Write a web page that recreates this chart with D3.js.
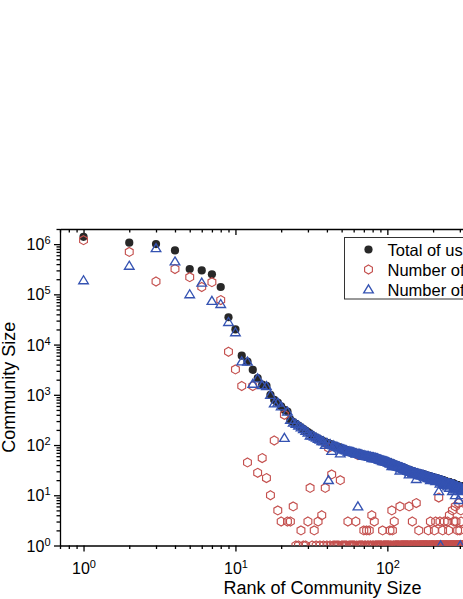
<!DOCTYPE html>
<html>
<head>
<meta charset="utf-8">
<script src="https://cdn.jsdelivr.net/npm/d3@7"></script>
<style>
	body { margin: 0; background: #fff; overflow: hidden; }
	svg { display: block; font-family: Arial, 'Liberation Sans', sans-serif; }
	.axis path, .axis line { stroke: #000; stroke-width: 1.3; fill: none; }
	.tick-label { font-size: 16px; fill: #000; }
	.title { font-size: 18px; fill: #000; }
	.legend-box { fill: #fff; stroke: #333; stroke-width: 1; }
	.legend-text { font-size: 16.5px; fill: #000; }
	.total { fill: #282828; }
	.red { fill: none; stroke: #c4504e; stroke-width: 1.15; }
	.blue { fill: none; stroke: #3553b2; stroke-width: 1.35; }
</style>
</head>
<body>
<svg width="463" height="599"></svg>
<script>
// community sizes, one value per rank (rank = index + 1)
const totalUsers = [
	1400000, 1070000, 1000000, 750000, 320000, 300000, 250000, 140000, 35000, 20000,
	6000, 4600, 3150, 2150, 1600, 1500, 1000, 790, 700, 590,
	500, 465, 320, 286, 265, 245, 225, 208, 193, 180,
	168, 156, 148, 141, 135, 129, 124, 119, 115, 111,
	108, 105, 102, 99, 96, 94, 92, 90, 88, 86,
	84, 82, 80, 79, 77, 76, 75, 74, 73, 72,
	71, 70, 69, 69, 68, 67, 66, 65, 64, 63,
	63, 62, 62, 61, 61, 60, 60, 59, 59, 58,
	58, 57, 57, 56, 55, 55, 54, 53, 52, 52,
	51, 51, 50, 50, 49, 49, 48, 48, 47, 47,
	46, 46, 45, 45, 44, 44, 43, 43, 42, 42,
	41, 41, 40, 40, 39, 39, 39, 38, 38, 38,
	37, 37, 37, 36, 36, 36, 35, 35, 35, 34,
	34, 34, 33, 33, 33, 32, 32, 32, 32, 31,
	31, 31, 31, 30, 30, 30, 30, 29, 29, 29,
	29, 29, 29, 28, 28, 28, 28, 28, 28, 27,
	27, 27, 27, 27, 27, 26, 26, 26, 26, 26,
	26, 26, 26, 25, 25, 25, 25, 25, 25, 25,
	25, 24, 24, 24, 24, 24, 24, 24, 24, 23,
	23, 23, 23, 23, 23, 23, 23, 23, 23, 22,
	22, 22, 22, 22, 22, 22, 22, 22, 22, 22,
	21, 21, 21, 21, 21, 21, 21, 21, 21, 21,
	21, 20, 20, 20, 20, 20, 20, 20, 20, 20,
	20, 20, 19, 19, 19, 19, 19, 19, 19, 19,
	19, 19, 19, 18, 18, 18, 18, 18, 18, 18,
	18, 18, 18, 18, 18, 18, 18, 18, 17, 17,
	17, 17, 17, 17, 17, 17, 17, 17, 17, 17,
	17, 17, 17, 17, 16, 16, 16, 16, 16, 16,
	16, 16, 16, 16, 16, 16, 16, 16, 16, 16,
	15, 15, 15, 15, 15, 15, 15, 15, 15, 15,
	15, 15, 15, 15, 15, 15, 15, 15, 14, 14,
	14, 14, 14, 14, 14, 14, 14, 14, 14, 14
];

const redUsers = [
	1200000, 700000, 180000, 320000, 220000, 140000, 175000, 77000, 7200, 3200,
	1500, 45, 1500, 28, 55, 22, 10, 123, 5, 3,
	400, 3, 3, 6, 1, 1, 2, 1, 1, 3,
	14, 1, 2, 1, 3, 1, 4, 1, 14, 1,
	88, 1, 26, 1, 1, 1, 1, 1, 20, 1,
	1, 1, 1, 1, 3, 1, 1, 1, 1, 1,
	1, 3, 1, 63, 1, 1, 1, 1, 1, 2,
	1, 1, 2, 1, 1, 2, 1, 1, 4, 1,
	1, 3, 1, 1, 1, 1, 1, 1, 1, 1,
	1, 1, 2, 1, 1, 1, 1, 1, 1, 1,
	1, 1, 1, 2, 1, 1, 5, 2, 1, 1,
	3, 1, 1, 1, 1, 1, 1, 1, 1, 1,
	6, 1, 1, 1, 1, 1, 1, 1, 1, 1,
	1, 1, 1, 1, 1, 1, 1, 1, 6, 1,
	1, 1, 1, 1, 1, 3, 1, 1, 1, 1,
	1, 1, 1, 1, 7, 1, 1, 1, 1, 1,
	2, 1, 1, 1, 1, 1, 1, 1, 1, 1,
	1, 1, 1, 1, 1, 1, 1, 1, 1, 1,
	1, 1, 1, 1, 1, 2, 1, 1, 1, 1,
	1, 3, 1, 1, 1, 1, 1, 1, 1, 1,
	1, 1, 1, 2, 1, 1, 1, 3, 1, 1,
	1, 1, 1, 1, 1, 1, 1, 9, 1, 1,
	1, 3, 1, 19, 1, 1, 1, 1, 1, 1,
	2, 1, 1, 1, 1, 1, 3, 1, 1, 1,
	1, 1, 1, 1, 1, 1, 1, 1, 3, 1,
	1, 1, 2, 1, 1, 4, 1, 1, 1, 1,
	1, 1, 1, 1, 1, 1, 1, 5, 1, 1,
	1, 1, 1, 1, 3, 1, 1, 1, 1, 6,
	1, 1, 3, 1, 1, 1, 1, 1, 1, 2,
	1, 1, 1, 1, 7, 1, 1, 1, 1, 2,
	1, 14, 1, 1, 5, 3, 1, 1, 1, 1,
	1, 1, 1, 1, 1, 1, 1, 1, 1, 1
];

const blueUsers = [
	190000, 370000, 830000, 450000, 100000, 170000, 74000, 64000, 28000, 17500,
	4600, 4550, 1650, 2120, 1550, 1480, 990, 670, 695, 587,
	138, 462, 317, 280, 264, 244, 223, 207, 192, 177,
	154, 155, 146, 140, 132, 128, 120, 118, 101, 110,
	20, 104, 76, 98, 95, 93, 91, 89, 68, 85,
	83, 81, 79, 78, 74, 75, 74, 73, 72, 71,
	70, 67, 68, 6, 67, 66, 65, 64, 63, 61,
	62, 61, 60, 60, 60, 58, 59, 58, 55, 57,
	57, 54, 56, 55, 54, 54, 53, 52, 51, 51,
	50, 50, 48, 49, 48, 48, 47, 47, 46, 46,
	45, 45, 44, 43, 43, 43, 38, 41, 41, 41,
	38, 40, 39, 39, 38, 38, 38, 37, 37, 37,
	31, 36, 36, 35, 35, 35, 34, 34, 34, 33,
	33, 33, 32, 32, 32, 31, 31, 31, 26, 30,
	30, 30, 30, 29, 29, 27, 29, 28, 28, 28,
	28, 28, 28, 27, 21, 27, 27, 27, 27, 26,
	25, 26, 26, 26, 26, 25, 25, 25, 25, 25,
	25, 25, 25, 24, 24, 24, 24, 24, 24, 24,
	24, 23, 23, 23, 23, 22, 23, 23, 23, 22,
	22, 20, 22, 22, 22, 22, 22, 22, 22, 21,
	21, 21, 21, 20, 21, 21, 21, 19, 21, 21,
	20, 20, 20, 20, 20, 20, 20, 12, 20, 20,
	20, 17, 19, 1, 19, 19, 19, 19, 19, 19,
	18, 19, 18, 18, 18, 18, 16, 18, 18, 18,
	18, 18, 18, 17, 17, 17, 17, 17, 15, 17,
	17, 17, 16, 17, 17, 14, 17, 17, 16, 16,
	16, 16, 16, 16, 16, 16, 16, 12, 16, 16,
	16, 16, 16, 16, 13, 15, 15, 15, 15, 10,
	15, 15, 13, 15, 15, 15, 15, 15, 15, 14,
	14, 14, 14, 14, 8, 14, 14, 14, 14, 13,
	14, 1, 14, 14, 10, 12, 14, 14, 13, 13,
	13, 13, 13, 13, 13, 13, 13, 13, 13, 13
];

const seriesNames = ['Total of users', 'Number of male users', 'Number of female users'];
const xTitle = 'Rank of Community Size';
const yTitle = 'Community Size';

function RankChart(selector) {
	this.svg = d3.select(selector);

	this.config = { left: 60, right: 585, top: 229, bottom: 545.5 };

	this.scales = {
		rank: d3.scaleLog().domain([0.7, 2000]).range([this.config.left, this.config.right]),
		size: d3.scaleLog().domain([1, 2e6]).range([this.config.bottom, this.config.top])
	};
}

RankChart.prototype.drawAxes = function () {
	const { left, right, top, bottom } = this.config;
	const x = this.scales.rank;
	const y = this.scales.size;

	const styleTicks = (g, attr, sign) => {
		g.selectAll('.tick line').attr(attr, (d) => sign * (isDecade(d) ? 6 : 3.5));
		g.selectAll('.tick text').remove();
		g.attr('font-size', null).attr('font-family', null);
	};

	const bottomAxis = this.svg.append('g')
		.attr('class', 'axis')
		.attr('transform', `translate(0, ${bottom})`)
		.call(d3.axisBottom(x).tickValues(x.ticks()).tickSizeOuter(0).tickFormat(''))
		.call((g) => styleTicks(g, 'y2', 1));

	this.svg.append('g')
		.attr('class', 'axis')
		.attr('transform', `translate(0, ${top})`)
		.call(d3.axisBottom(x).tickValues(x.ticks()).tickSizeOuter(0).tickFormat(''))
		.call((g) => styleTicks(g, 'y2', 1));

	const leftAxis = this.svg.append('g')
		.attr('class', 'axis')
		.attr('transform', `translate(${left}, 0)`)
		.call(d3.axisLeft(y).tickValues(y.ticks()).tickSizeOuter(0).tickFormat(''))
		.call((g) => styleTicks(g, 'x2', -1));

	this.svg.append('g')
		.attr('class', 'axis')
		.attr('transform', `translate(${right}, 0)`)
		.call(d3.axisLeft(y).tickValues(y.ticks()).tickSizeOuter(0).tickFormat(''))
		.call((g) => styleTicks(g, 'x2', 1));

	// the frame runs past the window, so only decades that fall inside get a label
	const xLabels = bottomAxis.selectAll('.tick')
		.filter((d) => isDecade(d) && x(d) < 440)
		.append('text')
		.attr('class', 'tick-label')
		.attr('text-anchor', 'middle')
		.attr('y', 28);
	addPower(xLabels);

	const yLabels = leftAxis.selectAll('.tick')
		.filter(isDecade)
		.append('text')
		.attr('class', 'tick-label')
		.attr('text-anchor', 'end')
		.attr('x', -9.5)
		.attr('y', 5.6);
	addPower(yLabels);
};

RankChart.prototype.drawSeries = function () {
	const { left, right, top, bottom } = this.config;
	const x = this.scales.rank;
	const y = this.scales.size;

	this.svg.append('clipPath')
		.attr('id', 'plot-clip')
		.append('rect')
		.attr('x', left)
		.attr('y', top)
		.attr('width', right - left)
		.attr('height', bottom - top);

	const plot = this.svg.append('g').attr('clip-path', 'url(#plot-clip)');

	plot.append('g').selectAll('circle')
		.data(totalUsers)
		.enter()
		.append('circle')
		.attr('class', 'total')
		.attr('cx', (d, i) => x(i + 1))
		.attr('cy', (d) => y(d))
		.attr('r', 4.1);

	plot.append('g').selectAll('path')
		.data(redUsers)
		.enter()
		.append('path')
		.attr('class', 'red')
		.attr('d', hexagon(4.5))
		.attr('transform', (d, i) => `translate(${x(i + 1)}, ${y(d)})`);

	plot.append('g').selectAll('path')
		.data(blueUsers)
		.enter()
		.append('path')
		.attr('class', 'blue')
		.attr('d', triangle())
		.attr('transform', (d, i) => `translate(${x(i + 1)}, ${y(d)})`);
};

RankChart.prototype.drawLegend = function () {
	const legend = this.svg.append('g').attr('transform', 'translate(344.5, 237.5)');

	legend.append('rect')
		.attr('class', 'legend-box')
		.attr('width', 240)
		.attr('height', 61.5);

	const rows = legend.selectAll('.legend-row')
		.data(seriesNames)
		.enter()
		.append('g')
		.attr('transform', (d, i) => `translate(0, ${12 + i * 20})`);

	rows.filter((d, i) => i === 0).append('circle')
		.attr('class', 'total')
		.attr('cx', 24)
		.attr('r', 4.1);

	rows.filter((d, i) => i === 1).append('path')
		.attr('class', 'red')
		.attr('d', hexagon(4.5))
		.attr('transform', 'translate(24, 0)');

	rows.filter((d, i) => i === 2).append('path')
		.attr('class', 'blue')
		.attr('d', triangle())
		.attr('transform', 'translate(24, 0)');

	rows.append('text')
		.attr('class', 'legend-text')
		.attr('x', 43)
		.attr('y', 6)
		.text((d) => d);
};

RankChart.prototype.drawTitles = function () {
	const { left, right, top, bottom } = this.config;

	this.svg.append('text')
		.attr('class', 'title')
		.attr('text-anchor', 'middle')
		.attr('x', (left + right) / 2)
		.attr('y', 594)
		.text(xTitle);

	this.svg.append('text')
		.attr('class', 'title')
		.attr('text-anchor', 'middle')
		.attr('transform', `translate(15, ${(top + bottom) / 2}) rotate(-90)`)
		.text(yTitle);
};

function addPower(selection) {
	selection.append('tspan').text('10');
	selection.append('tspan')
		.attr('dy', -6)
		.attr('font-size', 11)
		.text((d) => Math.round(Math.log10(d)));
}

function isDecade(d) {
	const p = Math.log10(d);
	return Math.abs(p - Math.round(p)) < 1e-9;
}

function hexagon(r) {
	const pts = d3.range(6).map((i) => {
		const a = Math.PI / 3 * i - Math.PI / 2;
		return [dp(r * Math.cos(a), 2), dp(r * Math.sin(a), 2)];
	});
	return `M${pts.join('L')}Z`;
}

function triangle() {
	return 'M0,-4.6L4.8,3.4L-4.8,3.4Z';
}

function dp(num, figs) {
	return Math.round(num * Math.pow(10, figs)) / Math.pow(10, figs);
}

const chart = new RankChart('svg');
chart.drawAxes();
chart.drawSeries();
chart.drawLegend();
chart.drawTitles();
</script>
</body>
</html>
